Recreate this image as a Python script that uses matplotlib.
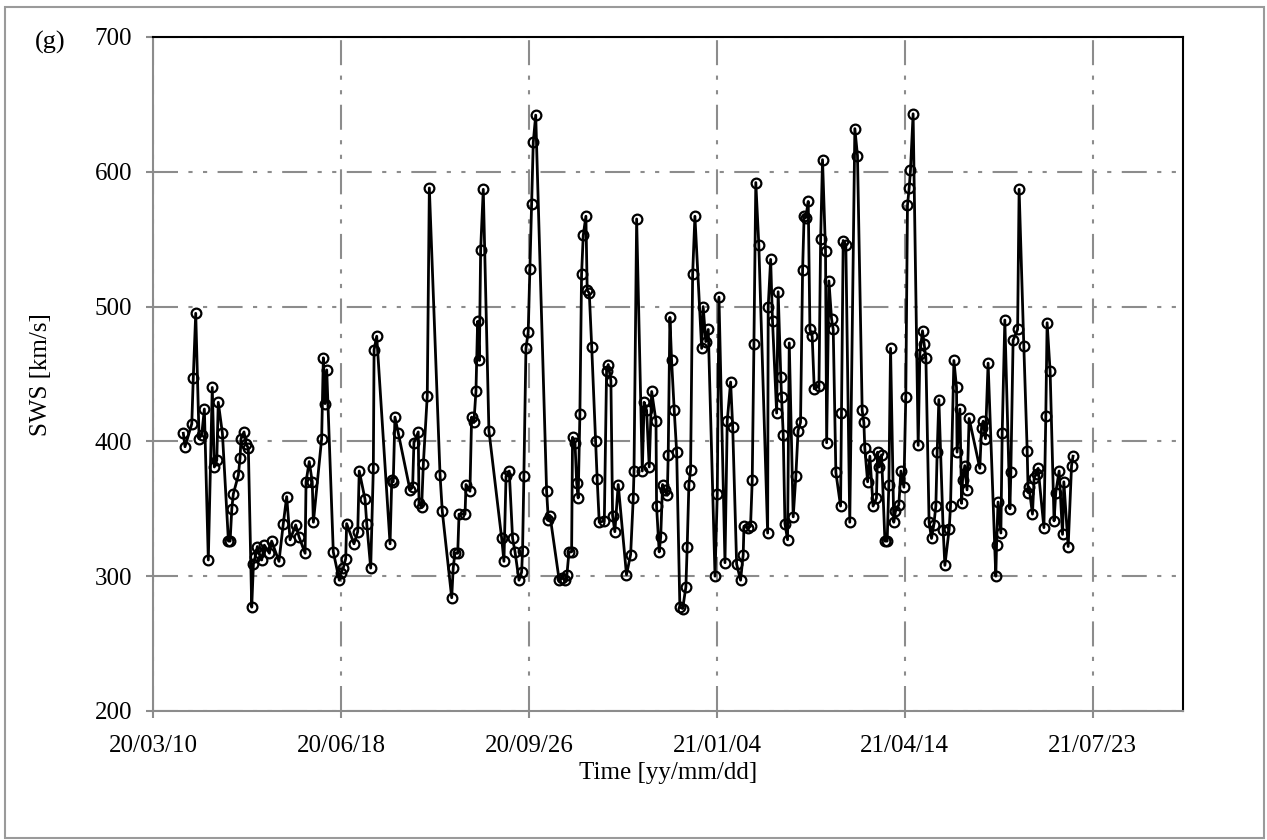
import matplotlib
matplotlib.use('Agg')
import matplotlib.pyplot as plt
import matplotlib.dates as mdates
from matplotlib.patches import Rectangle
import numpy as np
import pandas as pd

plt.rcParams['font.family'] = ['Liberation Serif', 'DejaVu Serif']

start = pd.Timestamp('2020-03-10')

# days since 2020-03-10 and solar wind speed (km/s)
days = [16.1, 17.0, 20.6, 21.4, 22.7, 24.5, 25.9, 27.3, 29.4, 31.5,
        32.6, 33.9, 34.7, 36.9, 40.1, 41.0, 41.9, 42.7, 45.4, 46.3,
        46.8, 48.4, 49.5, 50.7, 52.5, 53.4, 54.3, 55.5, 56.5, 57.8,
        59.2, 61.9, 63.1, 67.0, 69.3, 71.1, 72.9, 75.9, 77.7, 80.9,
        81.4, 83.1, 84.7, 85.3, 89.7, 90.6, 91.5, 92.4, 95.9, 99.1,
        99.8, 101.2, 102.5, 103.0, 106.9, 108.9, 109.7, 112.8, 113.7, 115.8,
        117.2, 117.6, 119.0, 126.1, 127.0, 127.8, 128.7, 130.5, 136.7, 138.1,
        138.8, 141.1, 141.5, 142.9, 143.8, 145.9, 147.0, 152.7, 153.9, 158.9,
        159.7, 160.6, 162.1, 162.8, 166.0, 166.5, 168.6, 169.5, 170.7, 171.8,
        172.7, 173.6, 174.3, 175.7, 178.7, 185.5, 186.7, 187.8, 189.5, 191.3,
        192.6, 194.7, 196.1, 196.6, 197.3, 198.4, 199.6, 200.5, 201.4, 202.3,
        203.6, 209.4, 210.3, 211.2, 216.1, 217.4, 219.1, 220.2, 221.3, 222.7,
        223.2, 224.5, 225.4, 226.2, 227.1, 228.0, 228.9, 230.3, 231.0, 232.1,
        233.4, 235.5, 236.3, 237.4, 240.1, 241.3, 242.2, 243.6, 244.5, 245.7,
        247.5, 251.9, 254.1, 255.5, 255.9, 257.3, 260.3, 261.3, 262.6, 264.0,
        265.3, 267.6, 267.9, 269.3, 270.1, 271.1, 272.3, 273.6, 274.1, 275.0,
        275.9, 277.3, 278.6, 280.3, 281.8, 283.5, 284.2, 285.1, 286.0, 287.1,
        288.3, 291.9, 292.7, 294.1, 295.4, 299.0, 300.2, 301.1, 304.3, 305.5,
        307.3, 308.4, 310.5, 312.6, 314.0, 314.4, 316.6, 317.9, 318.8, 319.7,
        320.7, 322.3, 327.0, 327.3, 328.6, 329.6, 331.8, 332.6, 334.0, 334.4,
        335.3, 336.2, 337.6, 338.5, 340.6, 342.0, 343.2, 344.5, 345.6, 346.4,
        347.3, 348.6, 349.5, 350.7, 351.8, 354.3, 355.2, 356.2, 357.8, 358.4,
        359.6, 361.0, 361.9, 363.3, 365.8, 366.3, 367.2, 368.6, 370.7, 373.4,
        374.8, 377.3, 378.2, 378.7, 380.2, 381.4, 383.1, 384.9, 385.5, 386.3,
        387.6, 389.4, 390.6, 391.5, 392.4, 394.1, 395.0, 396.8, 397.9, 399.5,
        400.5, 401.4, 402.3, 403.0, 404.4, 407.1, 408.0, 409.4, 410.3, 411.2,
        412.9, 414.2, 415.4, 416.5, 417.2, 418.1, 420.4, 421.3, 423.6, 424.3,
        426.1, 427.5, 427.8, 429.3, 430.2, 430.7, 431.9, 433.1, 434.2, 439.9,
        440.8, 441.7, 442.9, 444.3, 448.4, 448.8, 449.6, 451.1, 451.8, 453.2,
        455.9, 456.4, 457.6, 460.0, 460.8, 463.3, 465.1, 465.6, 466.1, 467.9,
        468.8, 470.1, 470.9, 474.0, 475.0, 475.7, 477.3, 479.4, 480.3, 482.1,
        483.9, 484.6, 486.9, 488.7, 489.5]

sws = [406, 396, 413, 447, 495, 402, 405, 424, 312, 440,
       381, 386, 429, 406, 326, 326, 350, 361, 375, 388,
       402, 407, 398, 395, 277, 309, 314, 322, 317, 312,
       323, 317, 326, 311, 339, 359, 327, 338, 329, 317,
       370, 385, 370, 340, 402, 462, 428, 453, 318, 297,
       302, 306, 313, 339, 324, 333, 378, 357, 339, 306,
       380, 468, 478, 324, 371, 370, 418, 406, 364, 366,
       399, 407, 354, 351, 383, 434, 588, 375, 348, 284,
       306, 317, 317, 346, 346, 368, 363, 418, 414, 437,
       489, 460, 542, 587, 408, 328, 311, 374, 378, 328,
       318, 297, 303, 319, 374, 469, 481, 528, 576, 622,
       642, 363, 342, 345, 297, 299, 297, 301, 318, 318,
       403, 399, 369, 358, 420, 524, 553, 567, 512, 510,
       470, 400, 372, 340, 341, 452, 457, 445, 345, 333,
       368, 301, 316, 358, 378, 565, 378, 429, 423, 381,
       437, 415, 352, 318, 329, 368, 364, 360, 390, 492,
       460, 423, 392, 277, 276, 292, 322, 368, 379, 524,
       567, 469, 500, 474, 483, 300, 361, 507, 310, 415,
       444, 411, 309, 297, 316, 337, 336, 337, 371, 472,
       592, 546, 332, 500, 535, 489, 421, 511, 448, 433,
       405, 339, 327, 473, 344, 374, 408, 414, 527, 567,
       566, 578, 483, 478, 439, 441, 550, 609, 541, 399,
       519, 491, 483, 377, 352, 421, 549, 546, 340, 632,
       612, 423, 414, 395, 370, 389, 352, 358, 392, 381,
       390, 326, 326, 368, 469, 340, 348, 353, 378, 366,
       433, 575, 588, 601, 643, 397, 465, 482, 472, 462,
       340, 328, 338, 352, 392, 431, 334, 308, 335, 352,
       460, 440, 392, 424, 354, 371, 382, 364, 417, 380,
       410, 415, 402, 458, 300, 323, 355, 332, 406, 490,
       350, 377, 475, 483, 587, 471, 393, 362, 366, 346,
       373, 376, 380, 336, 419, 488, 452, 341, 362, 378,
       331, 370, 322, 382, 389]

tick_days = [0, 100, 200, 300, 400, 500]
y_ticks = [200, 300, 400, 500, 600, 700]

dates = start + pd.to_timedelta(days, unit='D')
tick_dates = start + pd.to_timedelta(tick_days, unit='D')

fig = plt.figure(figsize=(12.67, 8.4), dpi=100)
ax = fig.add_axes([0.1208, 0.1536, 0.8129, 0.8024])

ax.plot(dates, sws, color='black', lw=2, marker='o', ms=7,
        mfc='none', mec='black', mew=1.6, zorder=3)

ax.set_xlim(start, start + pd.Timedelta(days=548))
ax.set_ylim(200, 700)
ax.set_yticks(y_ticks)
ax.set_xticks(tick_dates)
ax.xaxis.set_major_formatter(mdates.DateFormatter('%y/%m/%d'))

ax.grid(True, color='#8c8c8c', lw=1.5, dashes=(12, 5, 2, 5, 2, 5))
ax.set_axisbelow(True)

for s in ['top', 'right']:
    ax.spines[s].set_color('black')
    ax.spines[s].set_linewidth(1.5)
for s in ['left', 'bottom']:
    ax.spines[s].set_color('#8c8c8c')
    ax.spines[s].set_linewidth(1.5)

ax.tick_params(axis='both', direction='out', length=5, width=1.5,
               color='#8c8c8c', labelsize=18)
ax.tick_params(axis='y', pad=10)
ax.tick_params(axis='x', pad=12)

fig.text(0.032, 0.554, 'SWS [km/s]', rotation=90, ha='center', va='center', fontsize=18)
fig.text(0.527, 0.080, 'Time [yy/mm/dd]', ha='center', va='center', fontsize=18)
fig.text(0.0395, 0.949, '(g)', ha='center', va='center', fontsize=19)

fig.patches.append(Rectangle((0.004, 0.002), 0.994, 0.99, transform=fig.transFigure,
                             fill=False, edgecolor='#9a9a9a', lw=1.5))

plt.savefig('out.png', dpi=100)
